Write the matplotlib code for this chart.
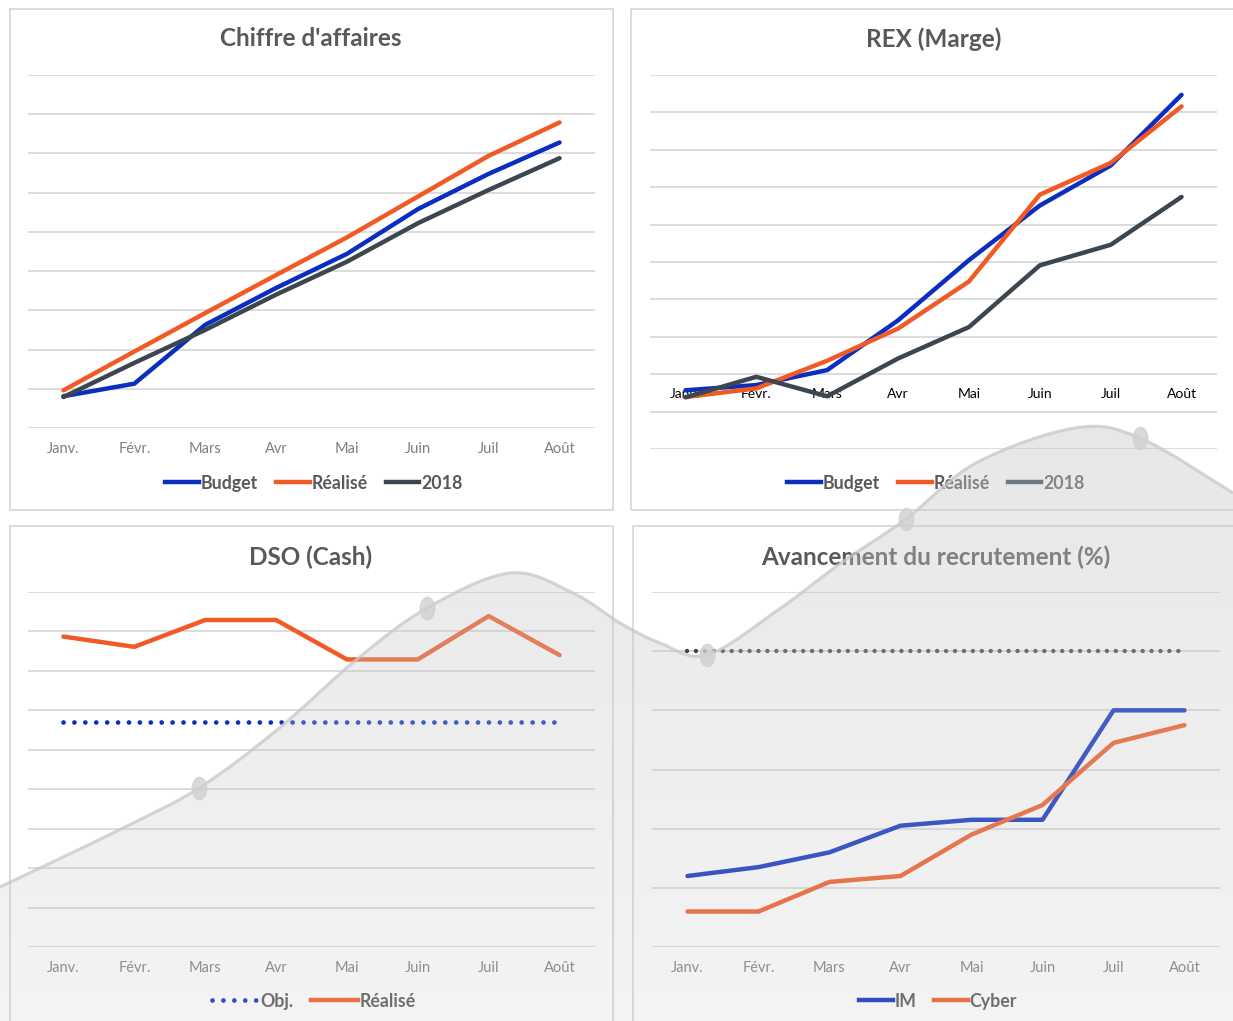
import numpy as np
import matplotlib

matplotlib.use("Agg")
import matplotlib.pyplot as plt
from matplotlib.lines import Line2D
from matplotlib.patches import Rectangle, PathPatch
from matplotlib.path import Path

plt.rcParams["font.family"] = ["Lato", "DejaVu Sans"]

W, H = 1233, 1021

months = ["Janv.", "Févr.", "Mars", "Avr", "Mai", "Juin", "Juil", "Août"]

# Chiffre d'affaires
ca_budget = [0.81, 1.13, 2.63, 3.57, 4.44, 5.58, 6.48, 7.28]
ca_realise = [0.96, 1.95, 2.93, 3.90, 4.86, 5.90, 6.94, 7.79]
ca_2018 = [0.79, 1.66, 2.50, 3.40, 4.24, 5.22, 6.07, 6.88]

# REX (Marge)
rex_budget = [-0.43, -0.29, 0.11, 1.44, 3.05, 4.51, 5.58, 7.47]
rex_realise = [-0.61, -0.38, 0.36, 1.22, 2.48, 4.80, 5.65, 7.16]
rex_2018 = [-0.62, -0.07, -0.59, 0.42, 1.26, 2.91, 3.46, 4.74]

# DSO (Cash)
dso_obj = [5.70, 5.70, 5.70, 5.70, 5.70, 5.70, 5.70, 5.70]
dso_realise = [7.87, 7.61, 8.29, 8.29, 7.29, 7.29, 8.39, 7.40]

# Avancement du recrutement (%)
rec_target = [100, 100, 100, 100, 100, 100, 100, 100]
rec_im = [24, 27, 32, 41, 43, 43, 80, 80]
rec_cyber = [12, 12, 22, 24, 38, 48, 69, 75]

# decorative background wave (pixel positions)
deco_x = [0, 119, 199, 277, 356, 427, 510, 573, 620, 660, 707, 778, 841, 906, 976, 1075, 1140, 1233]
deco_y = [887, 830, 788, 730, 660, 608, 573, 593, 623, 643, 655, 610, 563, 519, 463, 428, 438, 493]
deco_marks = [2, 5, 10, 13, 16]

BLUE = "#0a2fc0"
ORANGE = "#f15a24"
SLATE = "#3b4651"
GRID = "#d9d9d9"
TXT = "#595959"
TICK = "#7f7f7f"


def rect(x0, y0, x1, y1):
    return [x0 / W, 1 - y1 / H, (x1 - x0) / W, (y1 - y0) / H]


fig = plt.figure(figsize=(W / 100, H / 100), dpi=100)
fig.patch.set_facecolor("white")


def panel(bx, plot, title, tx, ty, ylim, step, zero=None):
    x0, y0, x1, y1 = bx
    fig.patches.append(
        Rectangle((x0 / W, 1 - y1 / H), (x1 - x0) / W, (y1 - y0) / H,
                  transform=fig.transFigure, fill=False, edgecolor=GRID, lw=1.3, zorder=1)
    )
    fig.text(tx / W, 1 - ty / H, title, ha="center", va="center",
             fontsize=17.5, fontweight="bold", color=TXT, zorder=3)
    ax = fig.add_axes(rect(*plot))
    ax.set_facecolor("none")
    ax.set_xlim(-0.5, 7.5)
    ax.set_ylim(*ylim)
    ax.set_yticks(np.arange(ylim[0], ylim[1] + step / 2, step))
    ax.grid(axis="y", color=GRID, lw=1.3)
    ax.set_axisbelow(True)
    ax.set_xticks(range(len(months)))
    ax.set_xticklabels(months, color=TICK, fontsize=10.5)
    ax.tick_params(axis="x", length=0, pad=10)
    ax.tick_params(axis="y", length=0, labelleft=False)
    for s in ax.spines.values():
        s.set_visible(False)
    if zero is not None:
        ax.spines["bottom"].set_position(("data", zero))
    return ax


def legend(ax, handles, labels, y, cx, hl=1.9):
    ax.legend(handles, labels, loc="center", bbox_to_anchor=(cx / W, 1 - y / H),
              bbox_transform=fig.transFigure, ncol=len(handles), frameon=False,
              handlelength=hl, handletextpad=0.1, columnspacing=1.0,
              prop={"size": 12.8, "weight": "bold"}, labelcolor=TXT)


x = np.arange(len(months))
lw = 3.2

# Chiffre d'affaires
ax1 = panel((10, 9, 613, 510), (28, 75, 595, 428), "Chiffre d'affaires", 311, 39, (0, 9), 1)
ax1.plot(x, ca_budget, color=BLUE, lw=lw, solid_capstyle="round")
ax1.plot(x, ca_realise, color=ORANGE, lw=lw, solid_capstyle="round")
ax1.plot(x, ca_2018, color=SLATE, lw=lw, solid_capstyle="round")
legend(ax1, [Line2D([], [], color=c, lw=lw) for c in (BLUE, ORANGE, SLATE)],
       ["Budget", "Réalisé", "2018"], 483, 314)

# REX (Marge)
ax2 = panel((631, 9, 1240, 510), (650, 75, 1217, 449), "REX (Marge)", 934, 39, (-2, 8), 1, zero=0)
ax2.plot(x, rex_budget, color=BLUE, lw=lw, solid_capstyle="round")
ax2.plot(x, rex_realise, color=ORANGE, lw=lw, solid_capstyle="round")
ax2.plot(x, rex_2018, color=SLATE, lw=lw, solid_capstyle="round")
legend(ax2, [Line2D([], [], color=c, lw=lw) for c in (BLUE, ORANGE, SLATE)],
       ["Budget", "Réalisé", "2018"], 483, 936)

# DSO (Cash)
dots = (0, (0.01, 2.3))
ax3 = panel((10, 526, 613, 1030), (28, 592, 595, 947), "DSO (Cash)", 311, 557, (0, 9), 1)
ax3.plot(x, dso_obj, color=BLUE, lw=3.4, ls=dots, dash_capstyle="round")
ax3.plot(x, dso_realise, color=ORANGE, lw=lw, solid_capstyle="round")
legend(ax3, [Line2D([], [], color=BLUE, lw=3.4, ls=dots, dash_capstyle="round"),
             Line2D([], [], color=ORANGE, lw=lw)],
       ["Obj.", "Réalisé"], 1001, 314, hl=2.6)

# Avancement du recrutement
ax4 = panel((633, 526, 1240, 1030), (652, 592, 1220, 947), "Avancement du recrutement (%)",
            936, 557, (0, 120), 20)
ax4.plot(x, rec_target, color=SLATE, lw=3.2, ls=(0, (0.01, 2.0)), dash_capstyle="round")
ax4.plot(x, rec_im, color=BLUE, lw=lw, solid_capstyle="round")
ax4.plot(x, rec_cyber, color=ORANGE, lw=lw, solid_capstyle="round")
legend(ax4, [Line2D([], [], color=c, lw=lw) for c in (BLUE, ORANGE)],
       ["IM", "Cyber"], 1001, 938)

# translucent wave drawn on top of everything
ov = fig.add_axes([0, 0, 1, 1], zorder=10)
ov.set_xlim(0, W)
ov.set_ylim(H, 0)
ov.axis("off")
ov.patch.set_alpha(0)

pts = np.column_stack([deco_x, deco_y]).astype(float)
ext = np.vstack([pts[0], pts, pts[-1]])
verts, codes = [pts[0]], [Path.MOVETO]
for i in range(1, len(ext) - 2):
    p0, p1, p2, p3 = ext[i - 1], ext[i], ext[i + 1], ext[i + 2]
    verts += [p1 + (p2 - p0) / 6, p2 - (p3 - p1) / 6, p2]
    codes += [Path.CURVE4] * 3
curve = Path(verts, codes)
fill_path = Path(verts + [(W, H), (0, H), verts[0]],
                 codes + [Path.LINETO, Path.LINETO, Path.CLOSEPOLY])
clip = PathPatch(fill_path, transform=ov.transData, facecolor="none", edgecolor="none")
ov.add_patch(clip)

grad = np.zeros((200, 1, 4))
grad[..., :3] = 0.78
grad[:, 0, 3] = np.linspace(0.42, 0.2, 200)
im = ov.imshow(grad, extent=(0, W, H, 420), aspect="auto", interpolation="bilinear")
im.set_clip_path(clip)

ov.add_patch(PathPatch(curve, facecolor="none", edgecolor="#c8c8c8", lw=2.3, alpha=0.75))
ov.set_xlim(0, W)
ov.set_ylim(H, 0)
oval = Path.unit_circle().transformed(matplotlib.transforms.Affine2D().scale(0.65, 1.0))
ov.plot([deco_x[i] for i in deco_marks], [deco_y[i] for i in deco_marks], ls="none",
        marker=oval, ms=16, color="#d0d0d0", alpha=0.8)

fig.savefig("out.png", dpi=100)
